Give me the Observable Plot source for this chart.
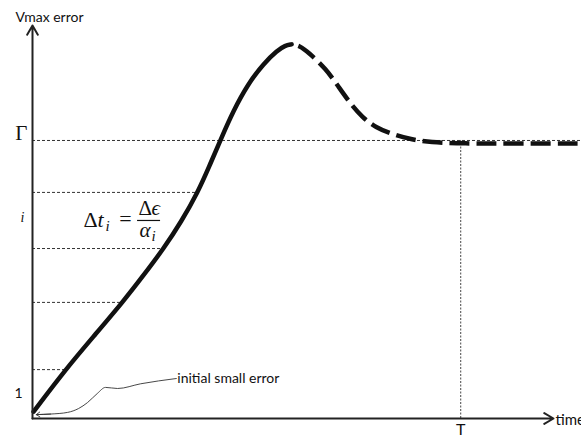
<!DOCTYPE html>
<html><head><meta charset="utf-8">
<script src="https://cdn.jsdelivr.net/npm/d3@7"></script>
<script src="https://cdn.jsdelivr.net/npm/@observablehq/plot@0.6"></script>
<style>body{margin:0;background:#fff;} svg{display:block}</style>
</head><body><div id="chart"></div>
<script>
// Solid part of the error curve (time, Vmax error)
const solidTime = [0.02, 0.60, 1.11, 1.64, 2.02, 2.39, 2.71, 3.01, 3.22, 3.42, 3.66, 3.93, 4.21, 4.46, 4.60, 4.72];
const solidErr  = [0.25, 1.76, 2.95, 4.18, 5.15, 6.12, 7.09, 8.14, 9.08, 10.01, 11.09, 12.06, 12.78, 13.25, 13.43, 13.47];
// Dashed part (overshoot and settling)
const dashTime = [4.72, 4.86, 5.03, 5.34, 5.57, 5.79, 6.01, 6.25, 6.56, 6.89, 7.25, 7.80, 8.89, 10.0];
const dashErr  = [13.47, 13.43, 13.18, 12.60, 11.96, 11.34, 10.84, 10.48, 10.23, 10.05, 9.94, 9.90, 9.90, 9.90];
// Reference levels and where each dotted line meets the curve
const levelValues = [10.01, 8.14, 6.12, 4.18, 1.76];
const levelEnds   = [10.0, 3.0, 2.39, 1.64, 0.60];
// Axis extents
const yMax = 14.15;
const xArrowEnd = 9.49;
// Tick labels
const yTickLabels = ["Γ", "i", "1"];
const yTickValues = [10.01, 7.24, 0.90];
const xTickLabels = ["T"];
const xTickValues = [7.80];
const gammaValue = 10.01;
// "initial small error" connector (from arrow tip to label)
const connTime = [0.07, 0.33, 0.64, 0.84, 1.00, 1.18, 1.33, 1.55, 1.97, 2.62];
const connErr  = [0.14, 0.16, 0.22, 0.36, 0.57, 0.90, 1.12, 1.08, 1.25, 1.44];
const noteLabel = "initial small error";
const formulaAt = {x: 0.93, y: 7.13};

const solid = solidTime.map((t, i) => ({t, v: solidErr[i]}));
const dashed = dashTime.map((t, i) => ({t, v: dashErr[i]}));
const levels = levelValues.map((v, i) => ({v, end: levelEnds[i]}));
const yTicks = yTickLabels.map((label, i) => ({label, v: yTickValues[i]}));
const xTicks = xTickLabels.map((label, i) => ({label, t: xTickValues[i]}));
const conn = connTime.map((t, i) => ({t, v: connErr[i]}));
const connHead = [{x1: conn[1].t, y1: conn[1].v, x2: conn[0].t, y2: conn[0].v}];
const axes = [{x1: 0, y1: 0, x2: 0, y2: yMax}, {x1: 0, y1: 0, x2: xArrowEnd, y2: 0}];

const serif = "'Liberation Serif', serif";
const sans = "Lato, 'Open Sans', sans-serif";

const chart = Plot.plot({
  width: 581, height: 437,
  marginLeft: 32, marginRight: 0, marginTop: 25, marginBottom: 19,
  x: {domain: [0, 10], axis: null},
  y: {domain: [0, yMax], axis: null},
  style: {background: "#fff", fontFamily: sans, overflow: "visible"},
  marks: [
    Plot.ruleY(levels, {y: "v", x1: 0, x2: "end", stroke: "#333", strokeWidth: 1, strokeDasharray: "3,2"}),
    Plot.ruleX(xTicks, {x: "t", y1: 0, y2: gammaValue, stroke: "#444", strokeWidth: 1, strokeDasharray: "2,1.5"}),
    Plot.line(solid, {x: "t", y: "v", curve: "basis", stroke: "#111", strokeWidth: 4.5}),
    Plot.line(dashed, {x: "t", y: "v", curve: "basis", stroke: "#111", strokeWidth: 4.5, strokeDasharray: "20,7", strokeDashoffset: 20, strokeLinecap: "butt"}),
    Plot.line(conn, {x: "t", y: "v", curve: "monotone-x", stroke: "#333", strokeWidth: 0.9}),
    Plot.arrow(connHead, {x1: "x1", y1: "y1", x2: "x2", y2: "y2", stroke: "#333", strokeWidth: 0.9, headLength: 7, headAngle: 70}),
    Plot.arrow(axes, {x1: "x1", y1: "y1", x2: "x2", y2: "y2", stroke: "#222", strokeWidth: 2, headLength: 8}),
    // labels
    Plot.text([0], {x: 0, y: yMax, text: () => "Vmax error", textAnchor: "start", lineAnchor: "bottom", dx: -17, dy: -4, fontSize: 14, fill: "#111"}),
    Plot.text([0], {x: xArrowEnd, y: 0, text: () => "time", textAnchor: "start", lineAnchor: "middle", dx: 2, dy: 2, fontSize: 15, fill: "#111"}),
    Plot.text(yTicks.slice(0, 1), {x: 0, y: "v", text: "label", textAnchor: "end", lineAnchor: "bottom", dx: -5, dy: 0, fontSize: 21, fontFamily: serif, fill: "#111"}),
    Plot.text(yTicks.slice(1, 2), {x: 0, y: "v", text: "label", textAnchor: "middle", lineAnchor: "middle", dx: -10, fontSize: 14, fontStyle: "italic", fontFamily: serif, fill: "#111"}),
    Plot.text(yTicks.slice(2), {x: 0, y: "v", text: "label", textAnchor: "middle", lineAnchor: "middle", dx: -14, fontSize: 14, fill: "#111"}),
    Plot.text(xTicks, {x: "t", y: 0, text: "label", textAnchor: "middle", lineAnchor: "top", dy: 5, fontSize: 16, fill: "#111"}),
    Plot.text([conn[conn.length - 1]], {x: "t", y: "v", text: () => noteLabel, textAnchor: "start", lineAnchor: "middle", dx: 1, fontSize: 14, fill: "#111"}),
    // formula  Δt_i = Δϵ / α_i
    Plot.text([formulaAt], {x: "x", y: "y", text: () => "Δ", textAnchor: "start", lineAnchor: "bottom", dy: 7, fontSize: 22, fontFamily: serif, fill: "#111"}),
    Plot.text([formulaAt], {x: "x", y: "y", text: () => "t", textAnchor: "start", lineAnchor: "bottom", dx: 14, dy: 7, fontSize: 22, fontStyle: "italic", fontFamily: serif, fill: "#111"}),
    Plot.text([formulaAt], {x: "x", y: "y", text: () => "i", textAnchor: "start", lineAnchor: "bottom", dx: 22, dy: 11, fontSize: 15, fontStyle: "italic", fontFamily: serif, fill: "#111"}),
    Plot.text([formulaAt], {x: "x", y: "y", text: () => "=", textAnchor: "middle", lineAnchor: "bottom", dx: 42, dy: 6, fontSize: 22, fontFamily: serif, fill: "#111"}),
    Plot.ruleY([formulaAt], {x1: "x", x2: "x", y: "y", dx: 54, insetRight: -23, stroke: "#111", strokeWidth: 1.2}),
    Plot.text([formulaAt], {x: "x", y: "y", text: () => "Δ", textAnchor: "start", lineAnchor: "bottom", dx: 55, dy: -5, fontSize: 21, fontFamily: serif, fill: "#111"}),
    Plot.text([formulaAt], {x: "x", y: "y", text: () => "ϵ", textAnchor: "start", lineAnchor: "bottom", dx: 68, dy: -5, fontSize: 21, fontStyle: "italic", fontFamily: serif, fill: "#111"}),
    Plot.text([formulaAt], {x: "x", y: "y", text: () => "α", textAnchor: "start", lineAnchor: "bottom", dx: 56, dy: 17, fontSize: 21, fontStyle: "italic", fontFamily: serif, fill: "#111"}),
    Plot.text([formulaAt], {x: "x", y: "y", text: () => "i", textAnchor: "start", lineAnchor: "bottom", dx: 68, dy: 21, fontSize: 15, fontStyle: "italic", fontFamily: serif, fill: "#111"})
  ]
});
document.getElementById("chart").appendChild(chart);
</script>
</body></html>
